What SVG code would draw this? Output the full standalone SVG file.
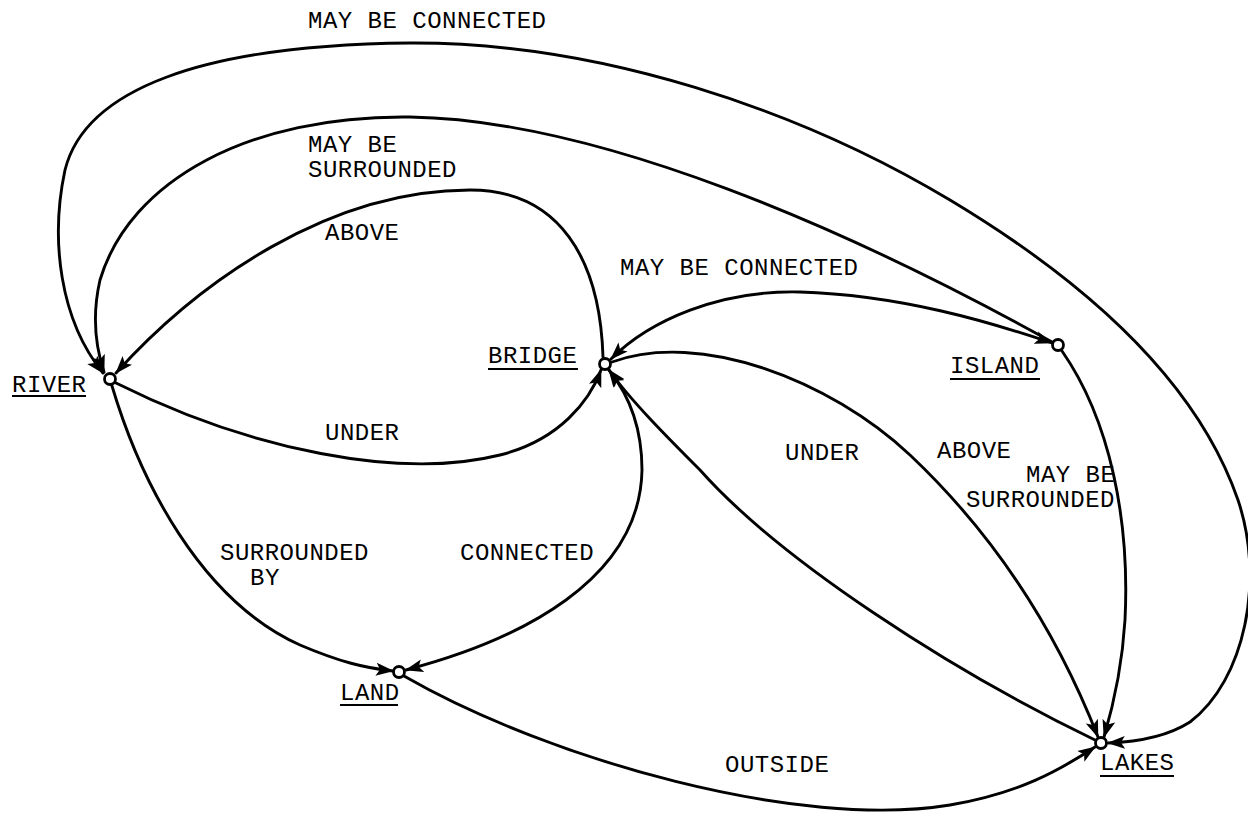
<svg xmlns="http://www.w3.org/2000/svg" width="1248" height="819" viewBox="0 0 1248 819">
<style>
.e{fill:none;stroke:#000;stroke-width:2.9;stroke-linecap:round}
.n{fill:#fff;stroke:#000;stroke-width:2.8}
.t{font-family:"Liberation Mono","Courier New",monospace;font-size:24px;letter-spacing:0.5px;fill:#000}
.u{stroke:#000;stroke-width:2}
</style>
<defs>
<marker id="ah" viewBox="0 0 18 14" refX="17" refY="7" markerWidth="18" markerHeight="14" markerUnits="userSpaceOnUse" orient="auto-start-reverse">
<path d="M0,0.5 L18,7 L0,13.5 L4,7 Z" fill="#000"/>
</marker>
</defs>
<rect width="1248" height="819" fill="#fff"/>
<g id="connectors">
<path id="e-outer" class="e" marker-start="url(#ah)" marker-end="url(#ah)" d="M103,373 C60,320 50,240 65,170 C85,90 200,45 410,43 C600,42 800,110 950,200 C1100,290 1200,390 1238,500 C1265,580 1245,680 1190,722 C1165,738 1135,742 1108,743"/>
<path id="e-surr1" class="e" marker-end="url(#ah)" d="M1052,342 C850,230 600,120 410,117 C250,115 130,180 100,280 C92,315 95,345 104,372"/>
<path id="e-above1" class="e" marker-end="url(#ah)" d="M603,357 C600,260 560,190 470,190 C330,190 200,280 116,373"/>
<path id="e-under1" class="e" marker-end="url(#ah)" d="M116,383 C250,450 400,480 500,455 C560,440 590,400 601,370"/>
<path id="e-surrby" class="e" marker-end="url(#ah)" d="M112,386 C140,480 200,600 300,645 C340,662 365,668 393,671"/>
<path id="e-conn" class="e" marker-start="url(#ah)" marker-end="url(#ah)" d="M406,670 C520,640 640,580 642,470 C642,420 625,390 609,370"/>
<path id="e-conn2" class="e" marker-start="url(#ah)" marker-end="url(#ah)" d="M611,359 C650,320 720,290 800,292 C900,295 990,322 1052,343"/>
<path id="e-above2" class="e" marker-end="url(#ah)" d="M612,362 C700,330 830,380 910,455 C1000,540 1060,640 1098,737"/>
<path id="e-under2" class="e" marker-end="url(#ah)" d="M1095,740 C950,670 780,560 700,470 C670,440 630,400 609,370"/>
<path id="e-surr2" class="e" marker-end="url(#ah)" d="M1062,351 C1110,420 1130,520 1125,620 C1122,670 1112,710 1104,737"/>
<path id="e-outside" class="e" marker-end="url(#ah)" d="M404,676 C550,760 800,830 950,805 C1020,793 1060,770 1095,747"/>
</g>
<g id="edge-labels">
<text class="t" x="308" y="28">MAY BE CONNECTED</text>
<text class="t" x="308" y="152">MAY BE</text>
<text class="t" x="308" y="177">SURROUNDED</text>
<text class="t" x="325" y="240">ABOVE</text>
<text class="t" x="620" y="275">MAY BE CONNECTED</text>
<text class="t" x="325" y="440">UNDER</text>
<text class="t" x="785" y="460">UNDER</text>
<text class="t" x="937" y="458">ABOVE</text>
<text class="t" x="1026" y="482">MAY BE</text>
<text class="t" x="966" y="507">SURROUNDED</text>
<text class="t" x="220" y="560">SURROUNDED</text>
<text class="t" x="250" y="585">BY</text>
<text class="t" x="460" y="560">CONNECTED</text>
<text class="t" x="725" y="772">OUTSIDE</text>
</g>
<g id="node-river">
<circle class="n" cx="110" cy="379" r="5.5"/>
<text class="t" x="12" y="392">RIVER</text>
<line class="u" x1="12" y1="396" x2="86" y2="396"/>
</g>
<g id="node-bridge">
<circle class="n" cx="605" cy="364" r="5.5"/>
<text class="t" x="488" y="363">BRIDGE</text>
<line class="u" x1="488" y1="369" x2="578" y2="369"/>
</g>
<g id="node-island">
<circle class="n" cx="1058" cy="345" r="5.5"/>
<text class="t" x="950" y="373">ISLAND</text>
<line class="u" x1="950" y1="379" x2="1040" y2="379"/>
</g>
<g id="node-land">
<circle class="n" cx="399" cy="672" r="5.5"/>
<text class="t" x="340" y="700">LAND</text>
<line class="u" x1="340" y1="705" x2="398" y2="705"/>
</g>
<g id="node-lakes">
<circle class="n" cx="1101" cy="743" r="5.5"/>
<text class="t" x="1100" y="770">LAKES</text>
<line class="u" x1="1100" y1="776" x2="1174" y2="776"/>
</g>
</svg>
